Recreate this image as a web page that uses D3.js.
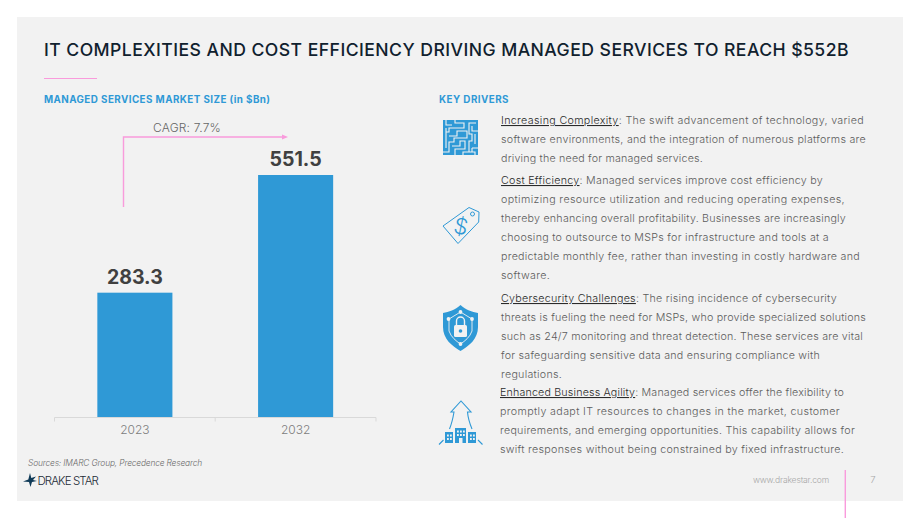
<!DOCTYPE html>
<html>
<head>
<meta charset="utf-8">
<script src="https://cdnjs.cloudflare.com/ajax/libs/d3/7.8.5/d3.min.js"></script>
<style>
  html, body { margin: 0; padding: 0; background: #fff; }
  svg { display: block; }
  text { font-family: "Inter", "Open Sans", sans-serif; }
</style>
</head>
<body>
<div id="chart"></div>
<script>
const years = ["2023", "2032"];
const marketSize = [283.3, 551.5];

const title = "IT COMPLEXITIES AND COST EFFICIENCY DRIVING MANAGED SERVICES TO REACH $552B";
const chartTitle = "MANAGED SERVICES MARKET SIZE (in $Bn)";
const driversTitle = "KEY DRIVERS";
const cagrLabel = "CAGR: 7.7%";
const sources = "Sources: IMARC Group, Precedence Research";

const driverHeads = ["Increasing Complexity", "Cost Efficiency", "Cybersecurity Challenges", "Enhanced Business Agility"];
const driverFirst = [
  ": The swift advancement of technology, varied",
  ": Managed services improve cost efficiency by",
  ": The rising incidence of cybersecurity",
  ": Managed services offer the flexibility to"
];
const driverRest = [
  ["software environments, and the integration of numerous platforms are",
   "driving the need for managed services."],
  ["optimizing resource utilization and reducing operating expenses,",
   "thereby enhancing overall profitability. Businesses are increasingly",
   "choosing to outsource to MSPs for infrastructure and tools at a",
   "predictable monthly fee, rather than investing in costly hardware and",
   "software."],
  ["threats is fueling the need for MSPs, who provide specialized solutions",
   "such as 24/7 monitoring and threat detection. These services are vital",
   "for safeguarding sensitive data and ensuring compliance with",
   "regulations."],
  ["promptly adapt IT resources to changes in the market, customer",
   "requirements, and emerging opportunities. This capability allows for",
   "swift responses without being constrained by fixed infrastructure."]
];

// right edge of every paragraph line in the slide
const lineEnds = [
  [864, 866, 703],
  [823, 845, 846, 829, 860, 550],
  [837, 866, 863, 820, 562],
  [844, 840, 855, 844]
];

const blue = "#2f99d6", pink = "#f99bdc", ink = "#10212e", grey = "#5c5c5c", panel = "#f2f2f2";

const svg = d3.select("#chart").append("svg").attr("width", 920).attr("height", 518);
svg.append("rect").attr("x", 17).attr("y", 17).attr("width", 886).attr("height", 484).attr("fill", panel);

// stretch a text to the width it has in the slide
function fit(sel, w) {
  const n = sel.text().length;
  const len = sel.node().getComputedTextLength();
  sel.style("letter-spacing", ((w - len) / n) + "px");
  return sel;
}

// headers
fit(svg.append("text").attr("x", 44).attr("y", 55.5).attr("fill", ink)
  .style("font-size", "17.6px").style("font-weight", 500).text(title), 805);
svg.append("line").attr("x1", 44).attr("x2", 97).attr("y1", 78.5).attr("y2", 78.5).attr("stroke", pink);
fit(svg.append("text").attr("x", 44).attr("y", 102.7).attr("fill", blue)
  .style("font-size", "9.8px").style("font-weight", 700).text(chartTitle), 226.5);
fit(svg.append("text").attr("x", 439).attr("y", 102.7).attr("fill", blue)
  .style("font-size", "9.8px").style("font-weight", 700).text(driversTitle), 70);

// bars
const x = d3.scaleBand().domain(years).range([54.5, 376]).paddingInner(0.533).paddingOuter(0.2665);
const y = d3.scaleLinear().domain([0, 551.5]).range([417, 175]);

svg.selectAll("rect.bar").data(years).enter().append("rect")
  .attr("class", "bar")
  .attr("x", d => x(d))
  .attr("width", x.bandwidth())
  .attr("y", (d, i) => y(marketSize[i]))
  .attr("height", (d, i) => y(0) - y(marketSize[i]))
  .attr("fill", blue);

svg.selectAll("text.val").data(years).enter().append("text")
  .attr("class", "val")
  .attr("x", d => x(d) + x.bandwidth() / 2)
  .attr("y", (d, i) => y(marketSize[i]) - 9)
  .attr("text-anchor", "middle")
  .attr("fill", "#404040")
  .style("font-size", "19.5px").style("font-weight", 700)
  .text((d, i) => marketSize[i]);

const axis = svg.append("g").attr("transform", "translate(0,417.5)")
  .call(d3.axisBottom(x).tickSize(0).tickPadding(8));
axis.select(".domain").remove();
axis.selectAll("text").attr("fill", "#7d7d7d").style("font-size", "12px").style("font-weight", 300)
  .style("font-family", "Inter, sans-serif");
axis.append("line").attr("x1", 54.5).attr("x2", 376).attr("stroke", "#d9d9d9");
axis.selectAll("line.sep").data([54.5, 215.2, 376]).enter().append("line")
  .attr("class", "sep").attr("x1", d => d).attr("x2", d => d).attr("y2", 4).attr("stroke", "#d9d9d9");

// CAGR arrow
svg.append("path").attr("d", "M123.5,207V137H283").attr("fill", "none").attr("stroke", pink).attr("stroke-width", 1.4);
svg.append("path").attr("d", "M282,134.5L288,137L282,139.5Z").attr("fill", pink);
fit(svg.append("text").attr("x", 153).attr("y", 131.7).attr("fill", "#666")
  .style("font-size", "12px").style("font-weight", 300).text(cagrLabel), 68);

// driver paragraphs
const blockX = [501, 501, 501, 500];
const blockY = [124, 184, 302, 396];
const lineGap = 19;
driverHeads.forEach((h, i) => {
  const t = svg.append("text").attr("x", blockX[i]).attr("y", blockY[i])
    .attr("fill", grey).style("font-size", "10.7px").style("font-weight", 300);
  t.append("tspan").attr("fill", "#2a2a2a").style("text-decoration", "underline").text(h);
  t.append("tspan").text(driverFirst[i]);
  fit(t, lineEnds[i][0] - blockX[i]);
  driverRest[i].forEach((line, j) => {
    fit(svg.append("text").attr("x", blockX[i]).attr("y", blockY[i] + lineGap * (j + 1))
      .attr("fill", grey).style("font-size", "10.7px").style("font-weight", 300).text(line),
      lineEnds[i][j + 1] - blockX[i]);
  });
});

// icon: maze
const maze = svg.append("g").attr("transform", "translate(443,120)");
maze.append("rect").attr("width", 35).attr("height", 35).attr("fill", blue);
maze.append("path")
  .attr("d", "M3,0V5H9M12,0V3H21V8H6V12H3M3,8V28M6,16H14V11H24V18H11V22H6V32H0M9,26H17V21H22V29H12V35M20,35V32H26V21H29V14H26V3H33M29,6V11H35M32,14V24M29,28H35M26,32H32V35M29,28V32")
  .attr("fill", "none").attr("stroke", panel).attr("stroke-width", 1.1);

// icon: price tag
const tag = svg.append("g").attr("fill", "none").attr("stroke", blue);
tag.append("path").attr("d", "M443,226L469,207.5L479,212L478.7,222L458,243.5Z").attr("stroke-width", 1);
tag.append("circle").attr("cx", 472.5).attr("cy", 214).attr("r", 2).attr("stroke-width", 1);
tag.append("text").attr("x", 461).attr("y", 234).attr("text-anchor", "middle").attr("fill", blue).attr("stroke", "none")
  .attr("transform", "rotate(12 461 226)").style("font-size", "22px").style("font-weight", 300).text("$");

// icon: shield
const shield = svg.append("g").attr("transform", "translate(443,305)");
shield.append("path").attr("d", "M17.5,0C23,5 29,7 35,8V22C35,34 26,41 17.5,46C9,41 0,34 0,22V8C6,7 12,5 17.5,0Z").attr("fill", blue);
shield.append("path").attr("d", "M17.5,7L29,14V26C27,32 22,36 17.5,39C13,36 8,32 6,26V14Z").attr("fill", "none").attr("stroke", panel).attr("stroke-width", 0.9);
shield.selectAll("circle.node").data([[17.5, 7], [5.5, 14], [29, 14], [17.5, 39]]).enter().append("circle")
  .attr("class", "node").attr("cx", d => d[0]).attr("cy", d => d[1]).attr("r", 1.9).attr("fill", panel);
shield.append("rect").attr("x", 11).attr("y", 20).attr("width", 13).attr("height", 12).attr("rx", 1.5).attr("fill", panel);
shield.append("path").attr("d", "M13.5,20V16A4,4 0 0 1 21.5,16V20").attr("fill", "none").attr("stroke", panel).attr("stroke-width", 1.4);
shield.append("circle").attr("cx", 17.5).attr("cy", 26).attr("r", 1.8).attr("fill", blue);

// icon: buildings and arrow
const city = svg.append("g");
city.append("path").attr("d", "M449.5,429C452,423 453,418 454,412H451L461,401L471,412H467.5C468,418 469.5,423 472,429")
  .attr("fill", "none").attr("stroke", blue).attr("stroke-width", 1.1);
city.append("path").attr("d", "M439,444.5L443.5,440M478,440L482.5,444.5").attr("stroke", blue).attr("stroke-width", 1.1);
city.selectAll("rect.b").data([[445, 432, 8, 11], [455, 428, 11, 15], [468, 432, 8, 11]]).enter().append("rect")
  .attr("class", "b").attr("x", d => d[0]).attr("y", d => d[1]).attr("width", d => d[2]).attr("height", d => d[3]).attr("fill", blue);
city.selectAll("rect.w").data([[447, 434.5], [450, 434.5], [447, 438], [450, 438], [457, 430.5], [460, 430.5], [463, 430.5], [457, 434], [460, 434], [463, 434], [470, 434.5], [473, 434.5], [470, 438], [473, 438]]).enter().append("rect")
  .attr("class", "w").attr("x", d => d[0]).attr("y", d => d[1]).attr("width", 1.8).attr("height", 2).attr("fill", panel);
city.append("rect").attr("x", 459).attr("y", 438).attr("width", 3.5).attr("height", 5).attr("fill", panel);

// footer
fit(svg.append("text").attr("x", 28).attr("y", 466).attr("fill", "#6b6b6b")
  .style("font-size", "8.4px").style("font-style", "italic").style("font-weight", 300).text(sources), 174);
svg.append("path").attr("d", "M30,473L31.3,478L36,476.5L33,480L37,481L32,482L30.5,487L29,482L23,481.5L28.3,479.5Z").attr("fill", "#0f3a57");
fit(svg.append("text").attr("x", 37.5).attr("y", 484.5).attr("fill", "#1c2b36")
  .style("font-size", "11.5px").style("font-weight", 300).text("DRAKE STAR"), 60.5);
fit(svg.append("text").attr("x", 753).attr("y", 483).attr("fill", "#a8a8a8")
  .style("font-size", "8.6px").style("font-weight", 300).text("www.drakestar.com"), 76);
svg.append("text").attr("x", 873).attr("y", 483).attr("text-anchor", "middle").attr("fill", "#a8a8a8").style("font-size", "9.5px").style("font-weight", 300).text("7");
svg.append("line").attr("x1", 845.3).attr("x2", 845.3).attr("y1", 470).attr("y2", 518).attr("stroke", pink).attr("stroke-width", 1.4);
</script>
</body>
</html>
